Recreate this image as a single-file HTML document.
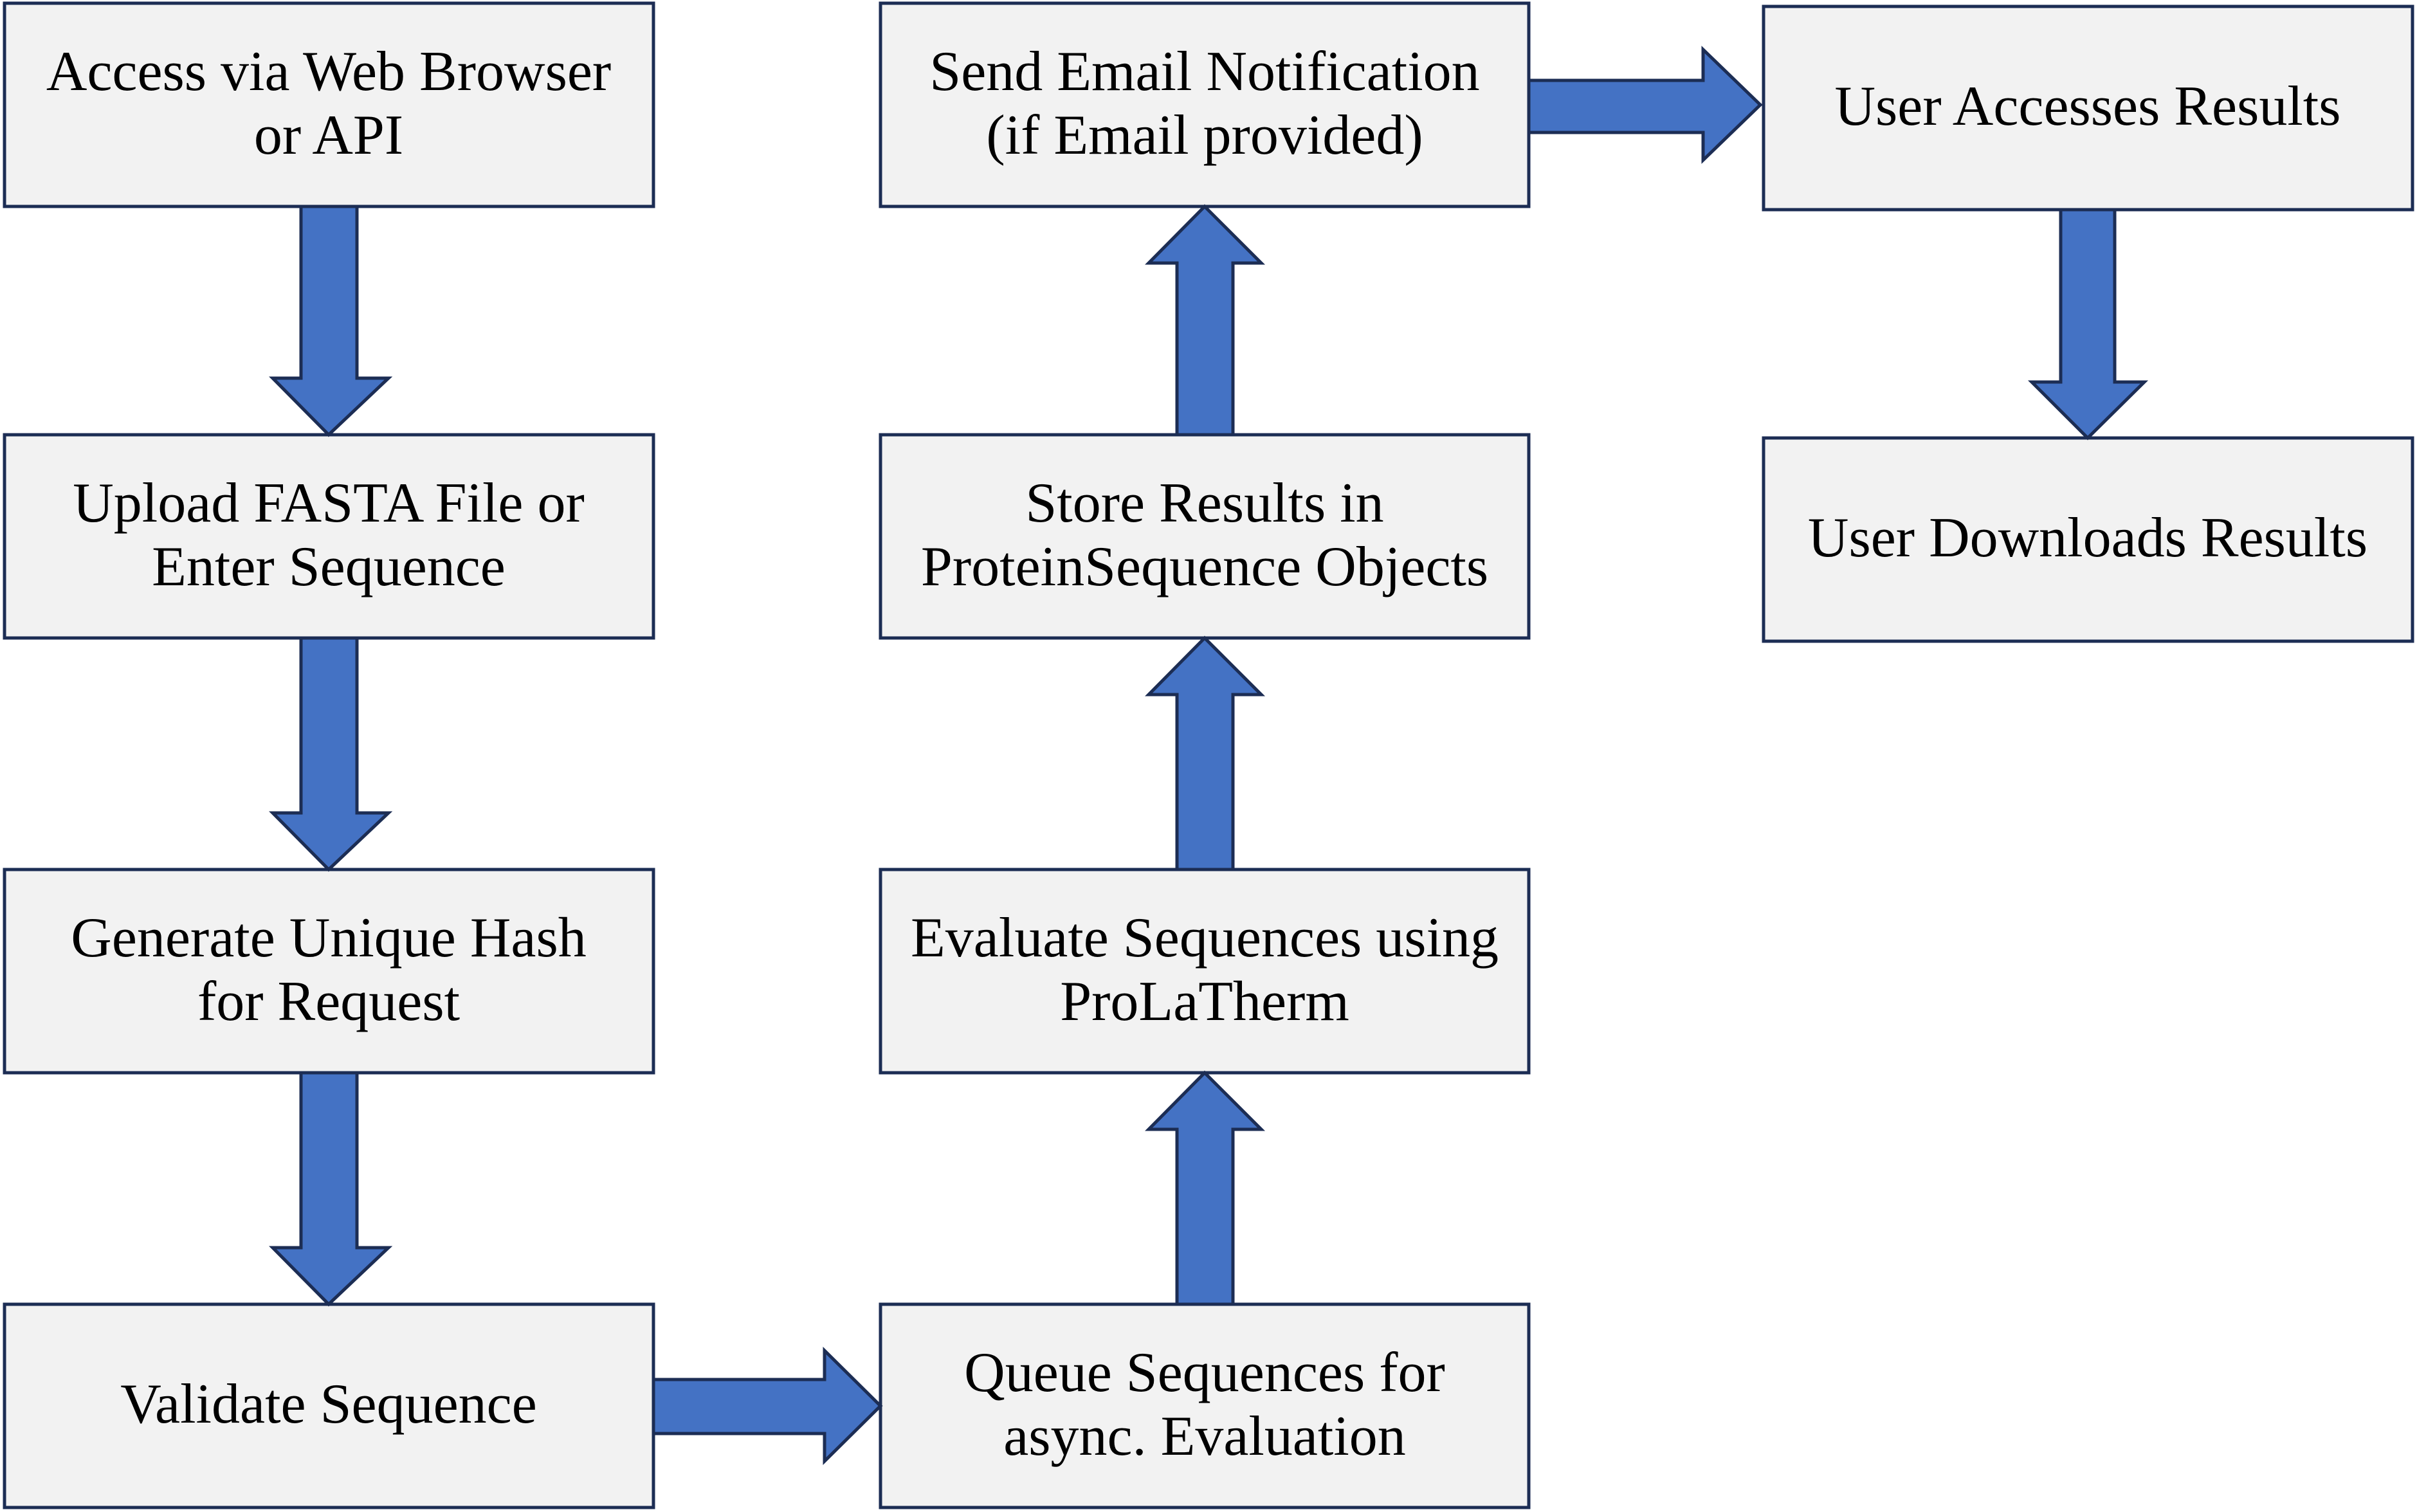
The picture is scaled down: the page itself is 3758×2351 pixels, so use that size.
<!DOCTYPE html>
<html><head><meta charset="utf-8"><style>
html,body{margin:0;padding:0;background:#fff;}
svg{display:block;}
text{font-family:"Liberation Serif",serif;font-size:88px;fill:#000;text-anchor:middle;}
</style></head><body>
<svg width="3758" height="2351" viewBox="0 0 3758 2351" xmlns="http://www.w3.org/2000/svg">
<g fill="#f2f2f2" stroke="#1c2d54" stroke-width="5">
<rect x="7" y="5" width="1009" height="316"/>
<rect x="7" y="676" width="1009" height="316"/>
<rect x="7" y="1352" width="1009" height="316"/>
<rect x="7" y="2028" width="1009" height="316"/>
<rect x="1369" y="5" width="1008" height="316"/>
<rect x="1369" y="676" width="1008" height="316"/>
<rect x="1369" y="1352" width="1008" height="316"/>
<rect x="1369" y="2028" width="1008" height="316"/>
<rect x="2742" y="10" width="1009" height="316"/>
<rect x="2742" y="681" width="1009" height="316"/>
</g>
<g fill="#4472c4" stroke="#1c2d54" stroke-width="5" stroke-linejoin="miter">
<polygon points="468,321 555,321 555,588 604,588 511,676 424,588 468,588"/>
<polygon points="468,992 555,992 555,1264 604,1264 511,1352 424,1264 468,1264"/>
<polygon points="468,1668 555,1668 555,1940 604,1940 511,2028 424,1940 468,1940"/>
<polygon points="1830,2028 1917,2028 1917,1756 1961,1756 1873,1668 1786,1756 1830,1756"/>
<polygon points="1830,1352 1917,1352 1917,1080 1961,1080 1873,992 1786,1080 1830,1080"/>
<polygon points="1830,676 1917,676 1917,409 1961,409 1873,321 1786,409 1830,409"/>
<polygon points="1016,2145 1282,2145 1282,2100 1369,2186 1282,2272 1282,2229 1016,2229"/>
<polygon points="2377,125 2648,125 2648,77 2737,163 2648,249 2648,206 2377,206"/>
<polygon points="3204,326 3288,326 3288,594 3334,594 3246,681 3159,594 3204,594"/>
</g>
<text x="511" y="140">Access via Web Browser</text>
<text x="511" y="239">or API</text>
<text x="511" y="811">Upload FASTA File or</text>
<text x="511" y="910">Enter Sequence</text>
<text x="511" y="1487">Generate Unique Hash</text>
<text x="511" y="1586">for Request</text>
<text x="511" y="2212">Validate Sequence</text>
<text x="1873" y="140">Send Email Notification</text>
<text x="1873" y="239">(if Email provided)</text>
<text x="1873" y="811">Store Results in</text>
<text x="1873" y="910">ProteinSequence Objects</text>
<text x="1873" y="1487">Evaluate Sequences using</text>
<text x="1873" y="1586">ProLaTherm</text>
<text x="1873" y="2163">Queue Sequences for</text>
<text x="1873" y="2262">async. Evaluation</text>
<text x="3246" y="194">User Accesses Results</text>
<text x="3246" y="865">User Downloads Results</text>
</svg>
</body></html>
